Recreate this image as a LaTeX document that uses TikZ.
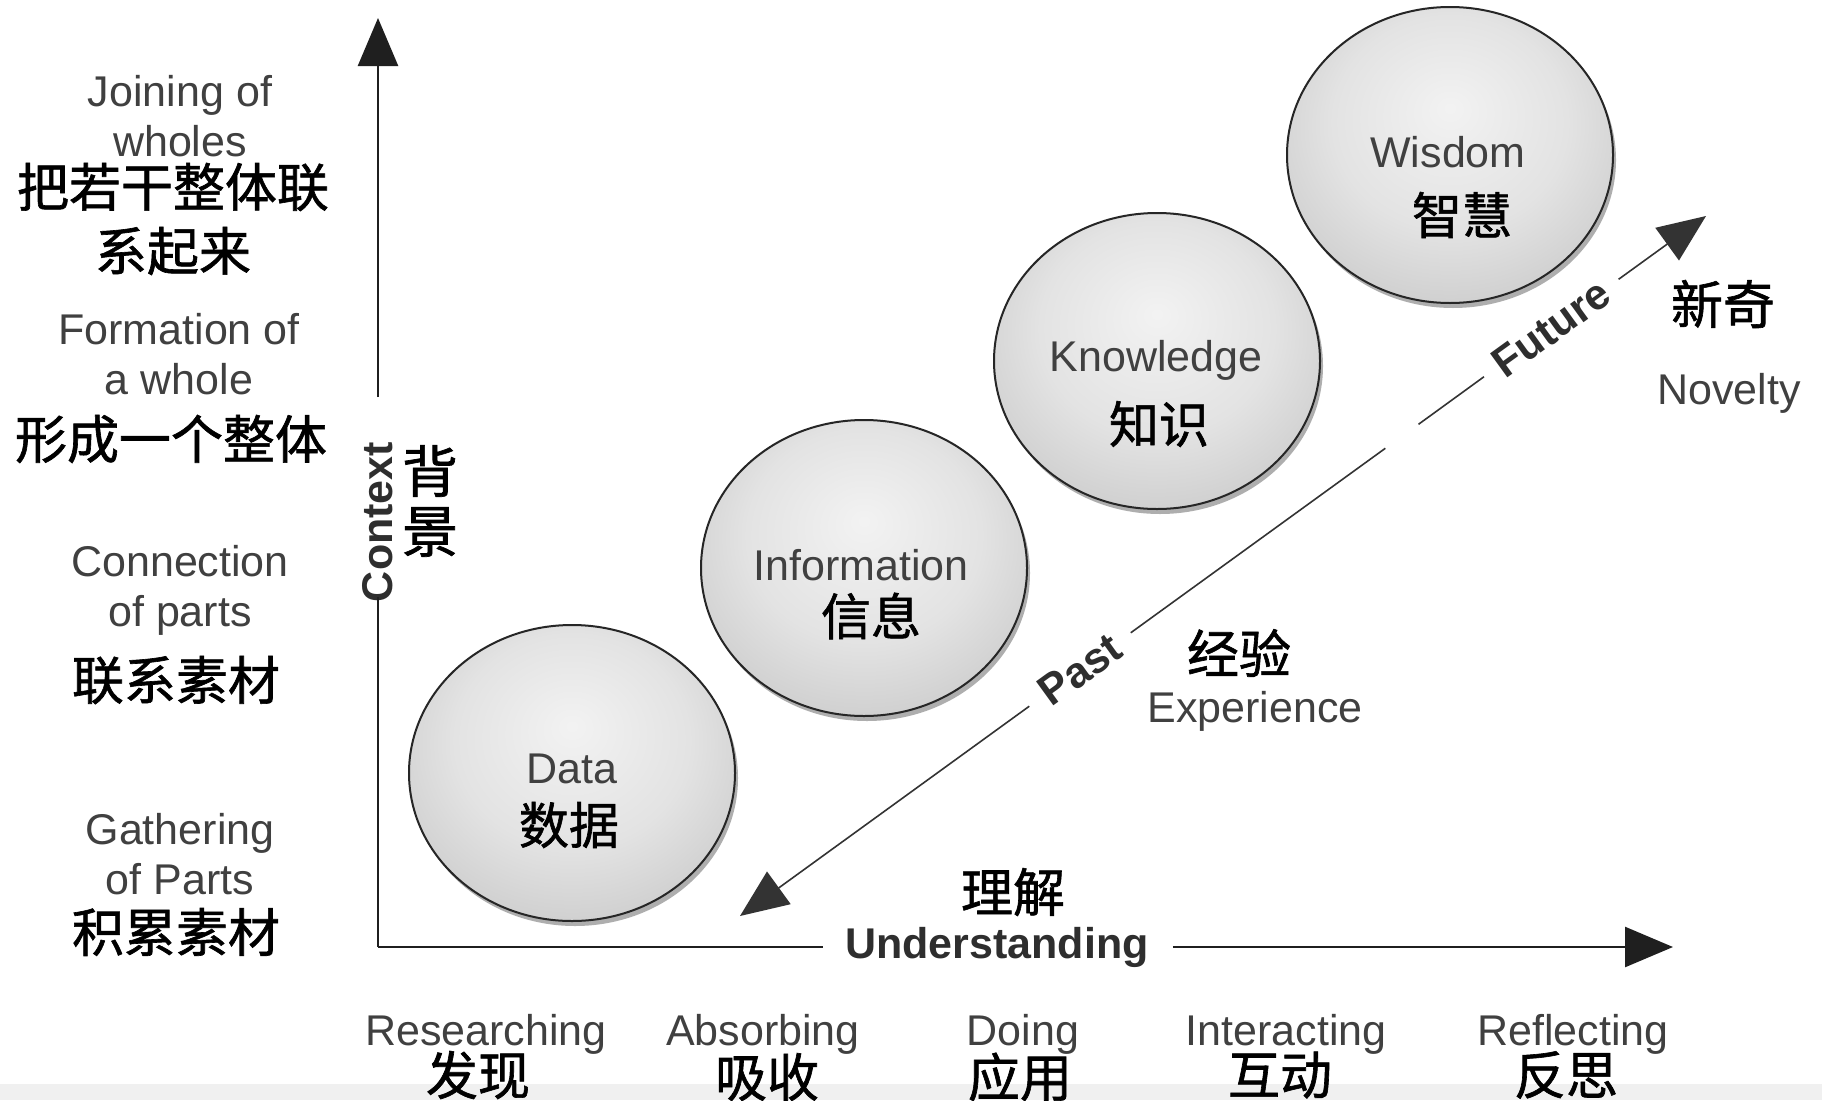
\documentclass[tikz,border=0pt]{standalone}
\usepackage{fontspec}
\setmainfont{Liberation Sans}
\newfontfamily\cjk[FakeBold=1.2]{Noto Sans CJK SC}
\usetikzlibrary{shapes.geometric,arrows.meta,shadows,calc}
\pgfdeclareradialshading{ballshade}{\pgfpoint{0bp}{8bp}}{color(0bp)=(black!5); color(18bp)=(black!11); color(42bp)=(black!27); color(58bp)=(black!36)}
\tikzset{
  bigtip/.tip={Triangle[length=48pt,width=40pt]},
  en/.style={text=black!75, font=\fontsize{43}{50}\selectfont, align=center, inner sep=0pt},
  enb/.style={text=black!82, font=\bfseries\fontsize{43}{50}\selectfont, inner sep=0pt},
  zh/.style={text=black, font=\cjk\fontsize{52}{64}\selectfont, align=center, inner sep=0pt},
  zhs/.style={text=black, font=\cjk\fontsize{50}{60}\selectfont, align=center, inner sep=0pt},
  ball/.style={ellipse, draw=black!85, line width=2pt, minimum width=326pt, minimum height=296pt,
    inner sep=0pt, shading=ballshade,
    drop shadow={shadow xshift=3pt, shadow yshift=-5pt, opacity=0.45, fill=black!70}},
  axisline/.style={line width=2.5pt, draw=black!88},
  diagline/.style={line width=1.6pt, draw=black!80}
}
\begin{document}
\begin{tikzpicture}[x=1pt,y=-1pt]
\fill[white] (0,0) rectangle (1822,1100);
\useasboundingbox (0,0) rectangle (1822,1100);
\fill[black!6] (0,1084) rectangle (1822,1100);

% axes
\coordinate (origin) at (378,947);
\coordinate (ytop) at (378,18);
\coordinate (xend) at (1673,947);
\coordinate (ctxlow) at (378,597);
\coordinate (ctxhigh) at (378,397);
\node[enb, rotate=90] (ctx) at (378,522) {Context};
\node[enb] (und) at (997,947) {Understanding};
\draw[axisline] (origin) -- ($(und.west)+(-22pt,0)$);
\draw[axisline,-bigtip] ($(und.east)+(24pt,0)$) -- (xend);
\draw[axisline] (origin) -- (ctxlow);
\draw[axisline,-bigtip] (ctxhigh) -- (ytop);
\node[zh, font=\cjk\fontsize{56}{62}\selectfont] (bei) at (430,471) {背};
\node[zh, font=\cjk\fontsize{56}{62}\selectfont] (jing) at (430,532) {景};
\node[zh] (lijie) at (1013,892) {理解};

% balls
\node[ball] (data) at (572,773) {};
\node[ball] (info) at (864,568) {};
\node[ball] (know) at (1157,361) {};
\node[ball] (wis) at (1450,155) {};

\node[en] (dataE) at (572,769) {Data};
\node[zhs] (dataC) at (569,825) {数据};
\node[en] (infoE) at (861,565) {Information};
\node[zhs] (infoC) at (871,616) {信息};
\node[en] (knowE) at (1156,360) {Knowledge};
\node[zhs] (knowC) at (1159,424) {知识};
\node[en] (wisE) at (1448,152) {Wisdom};
\node[zhs] (wisC) at (1462,215) {智慧};

% diagonal
\coordinate (pLL) at (740,916);
\coordinate (pUR) at (1706,216);
\coordinate (gapA) at (1385.3,448.3);
\coordinate (gapB) at (1418.5,424.3);
\node[enb, rotate=35.9] (past) at (1080,669.5) {Past};
\node[enb, rotate=35.9] (fut) at (1551.3,328.0) {Future};
\draw[diagline,bigtip-] (pLL) -- ($(past.west)!-17pt!(past.east)$);
\draw[diagline] ($(past.east)!-17pt!(past.west)$) -- (gapA);
\draw[diagline] (gapB) -- ($(fut.west)!-16pt!(fut.east)$);
\draw[diagline,-bigtip] ($(fut.east)!-16pt!(fut.west)$) -- (pUR);

\node[zh] (jy) at (1239,653) {经验};
\node[en] (exp) at (1255,711) {Experience};
\node[zh] (xq) at (1723,304) {新奇};
\node[en] (nov) at (1729,393) {Novelty};

% left column
\node[en] (l1e) at (180,116) {Joining of\\wholes};
\node[zh] (l1c) at (173,219) {把若干整体联\\系起来};
\node[en] (l2e) at (179,354) {Formation of\\a whole};
\node[zh] (l2c) at (171,439) {形成一个整体};
\node[en] (l3e) at (180,590) {Connection\\of parts};
\node[zh] (l3c) at (176,680) {联系素材};
\node[en] (l4e) at (180,854) {Gathering\\of Parts};
\node[zh] (l4c) at (176,932) {积累素材};

% bottom row
\node[en] (b1e) at (486,1034) {Researching};
\node[zh] (b1c) at (478,1075) {发现};
\node[en] (b2e) at (763,1034) {Absorbing};
\node[zh] (b2c) at (767,1077) {吸收};
\node[en] (b3e) at (1023,1034) {Doing};
\node[zh] (b3c) at (1020,1077) {应用};
\node[en] (b4e) at (1286,1034) {Interacting};
\node[zh] (b4c) at (1280,1075) {互动};
\node[en] (b5e) at (1573,1034) {Reflecting};
\node[zh] (b5c) at (1566,1075) {反思};
\end{tikzpicture}
\end{document}
